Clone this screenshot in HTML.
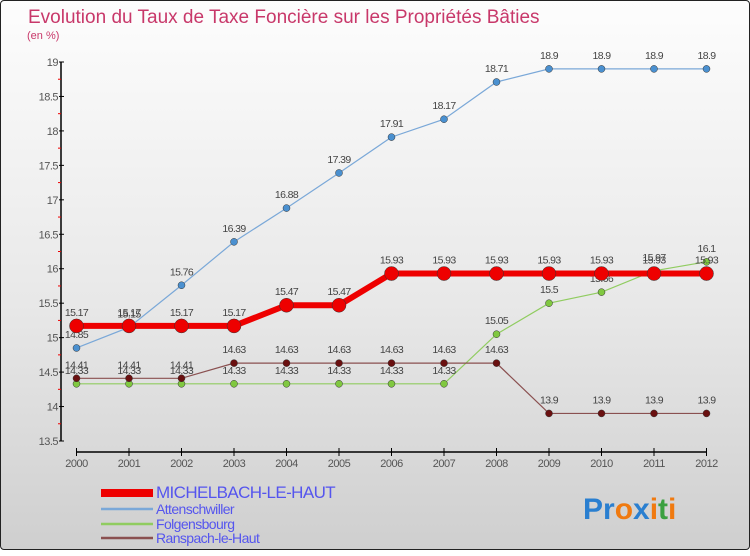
<!DOCTYPE html>
<html><head><meta charset="utf-8"><style>
body{margin:0;width:750px;height:550px;overflow:hidden;font-family:"Liberation Sans",sans-serif}
#wrap{position:absolute;left:0;top:0;width:748px;height:548px;border:1px solid #222;border-radius:4px;background:linear-gradient(#fdfdfd,#e8e8e8 55%,#cfcfcf)}
</style></head><body>
<div id="wrap">
<svg width="750" height="550" xmlns="http://www.w3.org/2000/svg" id="svg">
<text x="27" y="22" font-size="19" fill="#c8386a">Evolution du Taux de Taxe Foncière sur les Propriétés Bâties</text>
<text x="26" y="38" font-size="11" fill="#c8386a">(en %)</text>
<g id="axes"></g><g id="series"></g><g id="legend"></g>
<text x="582" y="518" font-size="30" font-weight="bold"><tspan fill="#2a7fd0">Pr</tspan><tspan fill="#f07a10">o</tspan><tspan fill="#2a7fd0">x</tspan><tspan fill="#f07a10">i</tspan><tspan fill="#3aa040">t</tspan><tspan fill="#f07a10">i</tspan></text>
</svg></div>
<script>
const years=[2000,2001,2002,2003,2004,2005,2006,2007,2008,2009,2010,2011,2012];
const yTicks=[13.5,14,14.5,15,15.5,16,16.5,17,17.5,18,18.5,19];
const michelbach=[15.17,15.17,15.17,15.17,15.47,15.47,15.93,15.93,15.93,15.93,15.93,15.93,15.93];
const attenschwiller=[14.85,15.15,15.76,16.39,16.88,17.39,17.91,18.17,18.71,18.9,18.9,18.9,18.9];
const folgensbourg=[14.33,14.33,14.33,14.33,14.33,14.33,14.33,14.33,15.05,15.5,15.66,15.97,16.1];
const ranspach=[14.41,14.41,14.41,14.63,14.63,14.63,14.63,14.63,14.63,13.9,13.9,13.9,13.9];
const NS="http://www.w3.org/2000/svg";
const X=i=>75.5+i*(705.5-75.5)/(years.length-1);
const Y=v=>61+(19-v)*(440-61)/5.5;
function mk(p,t,a){const e=document.createElementNS(NS,t);for(const k in a)e.setAttribute(k,a[k]);p.appendChild(e);return e;}
const ax=document.getElementById('axes');
let e=mk(ax,'line',{x1:60,y1:Y(19),x2:60,y2:Y(13.5),stroke:'#000','stroke-width':1.5});


e=mk(ax,'line',{x1:75,y1:451,x2:706,y2:451,stroke:'#000','stroke-width':1.5});


yTicks.forEach(v=>{
 mk(ax,'line',{x1:58,y1:Y(v),x2:63,y2:Y(v),stroke:'#000'});
 if(v<19) mk(ax,'line',{x1:57,y1:Y(v+0.25),x2:60,y2:Y(v+0.25),stroke:'#e00'});
 const t=mk(ax,'text',{x:57,y:Y(v)+4,'font-size':11,fill:'#555','text-anchor':'end','letter-spacing':'-0.5'});
 t.textContent=v;
 
 
});
years.forEach((y,i)=>{
 mk(ax,'line',{x1:X(i),y1:447,x2:X(i),y2:455,stroke:'#000'});
 const t=mk(ax,'text',{x:X(i),y:466,'font-size':11,fill:'#555','text-anchor':'middle','letter-spacing':'-0.5'});
 t.textContent=y;
 
 
});
const series=[
 {name:'folgensbourg',d:folgensbourg,c:'#90cc60',dot:'#80c840',w:1.2,r:3.5},
 {name:'ranspach',d:ranspach,c:'#8a5050',dot:'#6a1010',w:1.2,r:3.5},
 {name:'attenschwiller',d:attenschwiller,c:'#7aa8d8',dot:'#4a90d0',w:1.2,r:3.5},
 {name:'michelbach',d:michelbach,c:'#ee0000',dot:'#ee0000',w:6,r:7}
];
const sg=document.getElementById('series');
series.forEach(s=>{
 const g=mk(sg,'g',{});
 
 
 const pl=mk(g,'polyline',{points:s.d.map((v,i)=>X(i)+','+Y(v)).join(' '),fill:'none',stroke:s.c,'stroke-width':s.w});
 
 
 s.d.forEach((v,i)=>{
  const c=mk(g,'circle',{cx:X(i),cy:Y(v),r:s.r,fill:s.dot,stroke:'#333','stroke-width':0.5});
  
  
  const t=mk(g,'text',{x:X(i),y:Y(v)-10,'font-size':10.5,fill:'#444','text-anchor':'middle','letter-spacing':'-0.6'});
  t.textContent=v;
  
  
 });
});
const lg=document.getElementById('legend');
const leg=[['MICHELBACH-LE-HAUT','#ee0000',8,492,17],['Attenschwiller','#7aa8d8',2.5,508,14],['Folgensbourg','#90cc60',2.5,523,14],['Ranspach-le-Haut','#8a5050',2.5,537,14]];
leg.forEach(l=>{
 const r=mk(lg,'line',{x1:100,y1:l[3],x2:152,y2:l[3],stroke:l[1],'stroke-width':l[2]});
 
 
 const t=mk(lg,'text',{x:155,y:l[3]+5,'font-size':l[4],fill:'#5555ee','letter-spacing':'-0.6'});
 t.textContent=l[0];
 
 
});
</script>
</body></html>
